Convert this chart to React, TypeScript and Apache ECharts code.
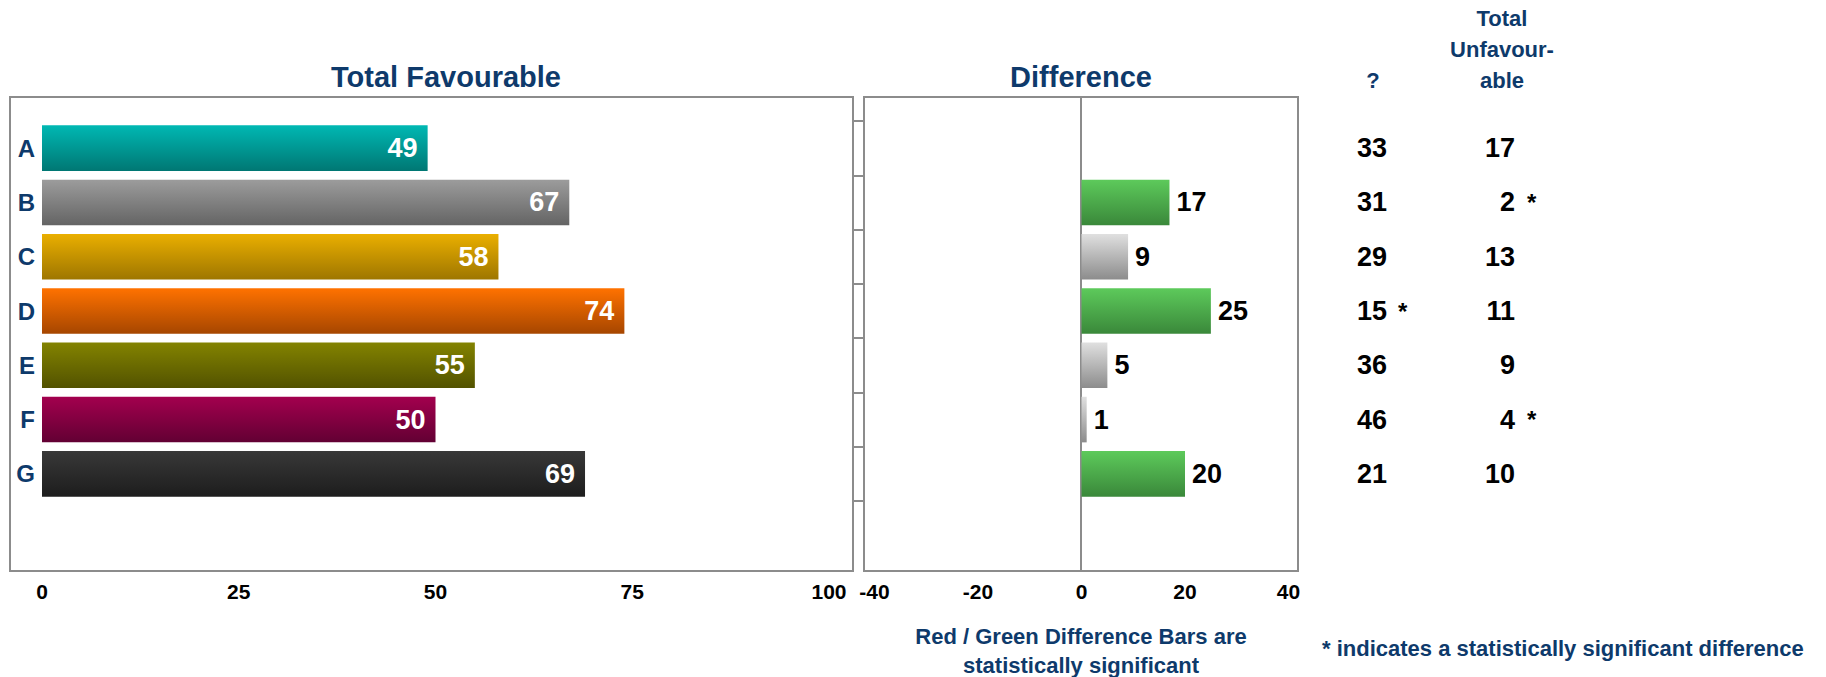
import React, { useEffect, useRef } from 'react';
import * as echarts from 'echarts';

// ---- data ----
const CATEGORIES = ['A', 'B', 'C', 'D', 'E', 'F', 'G'];
const FAVOURABLE = [49, 67, 58, 74, 55, 50, 69];
const DIFFERENCE: (number | null)[] = [null, 17, 9, 25, 5, 1, 20];
const DIFF_SIGNIFICANT = [false, true, false, true, false, false, true];
const NEUTRAL = [33, 31, 29, 15, 36, 46, 21];
const NEUTRAL_SIGNIFICANT = [false, false, false, true, false, false, false];
const UNFAVOURABLE = [17, 2, 13, 11, 9, 4, 10];
const UNFAVOURABLE_SIGNIFICANT = [false, true, false, false, false, true, false];

// ---- styling ----
const FONT = "'Liberation Sans', Arial, Helvetica, sans-serif";
const NAVY = '#0E3A6B';
const FRAME = '#8C8C8C';
const BAR_GRADIENTS: [string, string][] = [
  ['#00B8B3', '#007773'],
  ['#9C9C9C', '#646464'],
  ['#EAAF00', '#9E7600'],
  ['#FF7200', '#A64600'],
  ['#838300', '#525200'],
  ['#A3004E', '#620033'],
  ['#383838', '#1D1D1D'],
];
const SIG_GRADIENT: [string, string] = ['#5DCA5B', '#3A883A'];
const PLAIN_GRADIENT: [string, string] = ['#E0E0E0', '#8C8C8C'];

const vgrad = ([top, bottom]: [string, string]) =>
  new echarts.graphic.LinearGradient(0, 0, 0, 1, [
    { offset: 0, color: top },
    { offset: 1, color: bottom },
  ]);

// ---- layout (px) ----
const FRAME_TOP = 97;
const FRAME_H = 474;
const DATA_TOP = 121;
const DATA_H = 380;

const tableAxis = (
  margin: number,
  align: 'left' | 'right',
  formatter: (v: string, i: number) => string,
  extra: Record<string, unknown> = {}
) => ({
  gridIndex: 3,
  type: 'category',
  data: CATEGORIES,
  inverse: true,
  position: 'right',
  axisLine: { show: false, onZero: false },
  axisTick: { show: false },
  splitLine: { show: false },
  axisLabel: {
    interval: 0,
    margin,
    align,
    formatter,
    color: '#000',
    fontFamily: FONT,
    fontWeight: 'bold',
    fontSize: 27,
    ...extra,
  },
});

export default function App() {
  const ref = useRef<HTMLDivElement>(null);

  useEffect(() => {
    if (!ref.current) return;
    const chart = echarts.init(ref.current, undefined, { renderer: 'svg' });

    const titleText = (text: string, x: number, y: number, size: number, lineHeight?: number) => ({
      type: 'text',
      x,
      y,
      style: {
        text,
        fill: NAVY,
        fontFamily: FONT,
        fontWeight: 'bold',
        fontSize: size,
        lineHeight,
        align: 'center',
        verticalAlign: 'middle',
      },
    });

    chart.setOption({
      animation: false,
      backgroundColor: '#fff',
      grid: [
        { left: 10, top: FRAME_TOP, width: 843, height: FRAME_H, show: true, borderColor: FRAME, borderWidth: 2 },
        { left: 42, top: DATA_TOP, width: 787, height: DATA_H },
        { left: 864, top: FRAME_TOP, width: 434, height: FRAME_H, show: true, borderColor: FRAME, borderWidth: 2 },
        { left: 874.5, top: DATA_TOP, width: 414, height: DATA_H },
      ],
      xAxis: [
        { gridIndex: 0, type: 'value', show: false },
        {
          gridIndex: 1,
          type: 'value',
          min: 0,
          max: 100,
          interval: 25,
          axisLine: { show: false },
          axisTick: { show: false },
          splitLine: { show: false },
          axisLabel: { margin: 80, color: '#000', fontFamily: FONT, fontWeight: 'bold', fontSize: 21 },
        },
        { gridIndex: 2, type: 'value', min: -41.5, max: 41.5, show: false },
        {
          gridIndex: 3,
          type: 'value',
          min: -40,
          max: 40,
          interval: 20,
          axisLine: { show: false },
          axisTick: { show: false },
          splitLine: { show: false },
          axisLabel: { margin: 80, color: '#000', fontFamily: FONT, fontWeight: 'bold', fontSize: 21 },
        },
      ],
      yAxis: [
        { gridIndex: 0, type: 'value', show: false },
        {
          gridIndex: 1,
          type: 'category',
          data: CATEGORIES,
          inverse: true,
          axisLine: { show: false, onZero: false },
          axisTick: { show: false },
          axisLabel: { margin: 7, color: NAVY, fontFamily: FONT, fontWeight: 'bold', fontSize: 24 },
        },
        {
          gridIndex: 2,
          type: 'value',
          min: 0,
          max: 1,
          axisLine: { show: true, onZero: true, lineStyle: { color: FRAME, width: 2 } },
          axisTick: { show: false },
          axisLabel: { show: false },
          splitLine: { show: false },
        },
        {
          gridIndex: 3,
          type: 'category',
          data: CATEGORIES,
          inverse: true,
          position: 'left',
          offset: 10.5,
          axisLine: { show: false, onZero: false },
          axisTick: { show: true, length: 11, lineStyle: { color: FRAME, width: 2 } },
          axisLabel: { show: false },
        },
        tableAxis(68.5, 'left', (_v, i) => String(NEUTRAL[i])),
        tableAxis(109.5, 'left', (_v, i) => (NEUTRAL_SIGNIFICANT[i] ? '*' : ''), { fontSize: 24, padding: [14, 0, 0, 0] }),
        tableAxis(226.5, 'right', (_v, i) => String(UNFAVOURABLE[i])),
        tableAxis(238.5, 'left', (_v, i) => (UNFAVOURABLE_SIGNIFICANT[i] ? '*' : ''), { fontSize: 24, padding: [14, 0, 0, 0] }),
      ],
      series: [
        {
          type: 'bar',
          xAxisIndex: 1,
          yAxisIndex: 1,
          barWidth: '84%',
          data: FAVOURABLE.map((v, i) => ({ value: v, itemStyle: { color: vgrad(BAR_GRADIENTS[i]) } })),
          label: {
            show: true,
            position: 'insideRight',
            distance: 10,
            color: '#fff',
            fontFamily: FONT,
            fontWeight: 'bold',
            fontSize: 27,
          },
        },
        {
          type: 'bar',
          xAxisIndex: 3,
          yAxisIndex: 3,
          barWidth: '84%',
          data: DIFFERENCE.map((v, i) =>
            v === null
              ? null
              : { value: v, itemStyle: { color: vgrad(DIFF_SIGNIFICANT[i] ? SIG_GRADIENT : PLAIN_GRADIENT) } }
          ),
          label: {
            show: true,
            position: 'right',
            distance: 7,
            color: '#000',
            fontFamily: FONT,
            fontWeight: 'bold',
            fontSize: 27,
          },
        },
      ],
      graphic: [
        titleText('Total Favourable', 446, 77, 29),
        titleText('Difference', 1081, 77, 29),
        titleText('?', 1373, 80, 22),
        titleText('Total\nUnfavour-\nable', 1502, 49, 22, 31),
        titleText('Red / Green Difference Bars are\nstatistically significant', 1081, 651, 22, 29),
        {
          type: 'text',
          x: 1322,
          y: 648,
          style: {
            text: '* indicates a statistically significant difference',
            fill: NAVY,
            fontFamily: FONT,
            fontWeight: 'bold',
            fontSize: 22,
            align: 'left',
            verticalAlign: 'middle',
          },
        },
      ],
    });

    return () => chart.dispose();
  }, []);

  return (
    <div
      ref={ref}
      style={{ position: 'fixed', left: 0, top: 0, width: 1826, height: 677 }}
    />
  );
}
